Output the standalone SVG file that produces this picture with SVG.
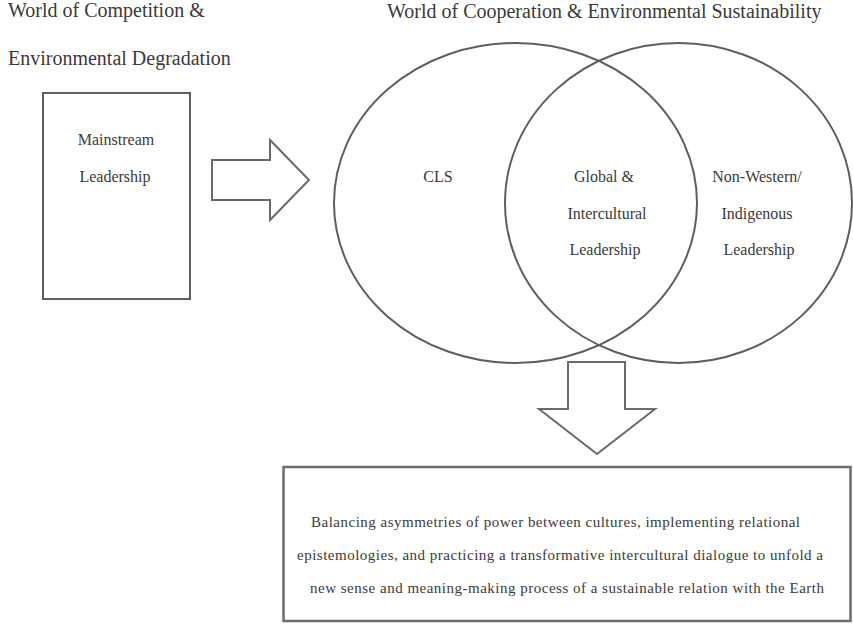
<svg xmlns="http://www.w3.org/2000/svg" width="853" height="624" viewBox="0 0 853 624">
  <style>
    .t { font-family: "Liberation Serif", "Times New Roman", serif; fill: #3a3a3a; }
    .title { font-size: 20px; }
    .lbl { font-size: 16px; text-anchor: middle; }
    .body { font-size: 15px; }
    .shape { fill: none; stroke: #5e5e5e; stroke-width: 2; }
    .arrow { fill: #ffffff; stroke: #6a6a6a; stroke-width: 2; stroke-linejoin: miter; }
  </style>
  <rect width="853" height="624" fill="#ffffff"/>

  <!-- headings -->
  <g id="heading-competition">
    <text class="t title" x="8" y="17">World of Competition &amp;</text>
    <text class="t title" x="8" y="65">Environmental Degradation</text>
  </g>
  <g id="heading-cooperation">
    <text class="t title" x="387" y="18">World of Cooperation &amp; Environmental Sustainability</text>
  </g>

  <!-- left box -->
  <g id="mainstream">
    <rect class="shape" x="43" y="93" width="147" height="206"/>
    <text class="t lbl" x="116" y="145">Mainstream</text>
    <text class="t lbl" x="115" y="182">Leadership</text>
  </g>

  <!-- Venn circles -->
  <g id="cls">
    <ellipse class="shape" cx="515.5" cy="203" rx="181.5" ry="160"/>
    <text class="t lbl" x="438" y="182">CLS</text>
  </g>
  <g id="non-western">
    <ellipse class="shape" cx="678.5" cy="203" rx="173.5" ry="160"/>
    <text class="t lbl" x="757" y="182">Non-Western/</text>
    <text class="t lbl" x="757" y="219">Indigenous</text>
    <text class="t lbl" x="759" y="255">Leadership</text>
  </g>
  <g id="global-intercultural">
    <text class="t lbl" x="604" y="182">Global &amp;</text>
    <text class="t lbl" x="607" y="219">Intercultural</text>
    <text class="t lbl" x="605" y="255">Leadership</text>
  </g>

  <!-- outcome box -->
  <g id="outcome">
    <rect x="283.5" y="467" width="567" height="154" fill="none" stroke="#6e6e6e" stroke-width="2.5"/>
    <text class="t body" x="311" y="527" textLength="489" lengthAdjust="spacing">Balancing asymmetries of power between cultures, implementing relational</text>
    <text class="t body" x="297" y="560" textLength="526" lengthAdjust="spacing">epistemologies, and practicing a transformative intercultural dialogue to unfold a</text>
    <text class="t body" x="310" y="593" textLength="514" lengthAdjust="spacing">new sense and meaning-making process of a sustainable relation with the Earth</text>
  </g>

  <!-- block arrows -->
  <g id="connectors">
    <polygon class="arrow" points="212,160 270,160 270,140 309,180 270,220 270,200 212,200"/>
    <polygon class="arrow" points="568,362 625,362 625,409 655,409 597,454 539,409 568,409"/>
  </g>
</svg>
